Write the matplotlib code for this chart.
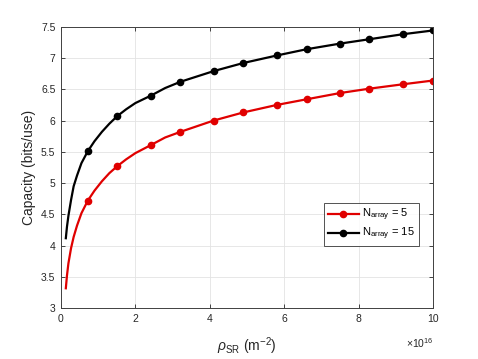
import matplotlib
matplotlib.use("Agg")
import matplotlib.pyplot as plt
from matplotlib.ticker import FixedLocator

plt.rcParams['font.family'] = ['Liberation Sans', 'DejaVu Sans']
plt.rcParams['mathtext.fontset'] = 'custom'
plt.rcParams['mathtext.rm'] = 'Liberation Sans'
plt.rcParams['mathtext.it'] = 'Liberation Sans:italic'

# x in units of 1e16 m^-2
x = [0.13, 0.16, 0.20, 0.27, 0.34, 0.43, 0.55, 0.72, 0.90, 1.10, 1.30, 1.51,
     1.75, 2.00, 2.42, 2.80, 3.21, 4.10, 4.90, 5.80, 6.60, 7.50, 8.29, 9.19, 10.0]
cap_n5 = [3.32, 3.52, 3.72, 3.96, 4.14, 4.32, 4.52, 4.72, 4.88, 5.03, 5.16, 5.27,
          5.38, 5.48, 5.61, 5.73, 5.82, 6.00, 6.13, 6.25, 6.34, 6.44, 6.51, 6.58, 6.64]
cap_n15 = [4.12, 4.30, 4.48, 4.73, 4.95, 5.12, 5.32, 5.51, 5.67, 5.82, 5.95, 6.07,
           6.18, 6.28, 6.40, 6.52, 6.62, 6.79, 6.92, 7.04, 7.14, 7.23, 7.30, 7.38, 7.44]
marker_idx = [7, 11, 14, 16, 17, 18, 19, 20, 21, 22, 23, 24]
labels = ['N$_{\\mathrm{array}}$ = 5', 'N$_{\\mathrm{array}}$ = 15']
xticks = [0, 2, 4, 6, 8, 10]
yticks = [3, 3.5, 4, 4.5, 5, 5.5, 6, 6.5, 7, 7.5]
ytick_labels = ['3', '3.5', '4', '4.5', '5', '5.5', '6', '6.5', '7', '7.5']

fig = plt.figure(figsize=(4.78, 3.59), dpi=100)
ax = fig.add_axes([0.1276, 0.1412, 0.7783, 0.7844])

ax.plot(x, cap_n5, color='#e00000', lw=1.6, marker='o', ms=4.5,
        markevery=marker_idx, label=labels[0])
ax.plot(x, cap_n15, color='black', lw=1.6, marker='o', ms=4.5,
        markevery=marker_idx, label=labels[1])

ax.set_xlim(0, 10)
ax.set_ylim(3, 7.5)
ax.xaxis.set_major_locator(FixedLocator(xticks))
ax.set_yticks(yticks)
ax.set_yticklabels(ytick_labels)
ax.grid(True, color='#e3e3e3', lw=0.6)
ax.set_axisbelow(True)
ax.tick_params(direction='in', length=3, width=0.6, top=True, right=True,
               labelsize=7.5, colors='#262626', pad=4)
for s in ax.spines.values():
    s.set_color('#404040')
    s.set_linewidth(0.7)

ax.set_ylabel('Capacity (bits/use)', fontsize=10, color='#262626', labelpad=4)
ax.set_xlabel('$\\rho_{\\mathrm{SR}}$ (m$^{-2}$)', fontsize=10, color='#262626', labelpad=8)
ax.text(1.0, -0.1, '×10$^{16}$', transform=ax.transAxes, ha='right', va='top',
        fontsize=7.5, color='#262626')

leg = ax.legend(loc='upper left', bbox_to_anchor=(0.707, 0.374), borderaxespad=0,
                fontsize=8, frameon=True, fancybox=False, edgecolor='#262626',
                handlelength=2.8, handletextpad=0.3, borderpad=0.35, labelspacing=0.25)
leg.get_frame().set_linewidth(0.7)

fig.savefig('out.png', dpi=100)
